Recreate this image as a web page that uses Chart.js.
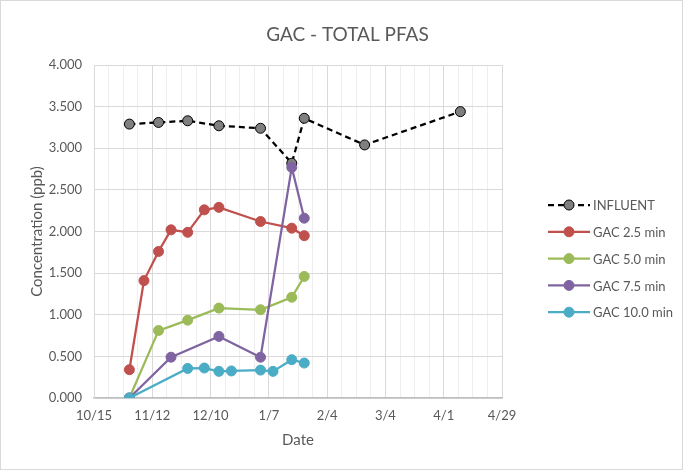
<!DOCTYPE html>
<html lang="en">
<head>
  <meta charset="UTF-8">
  <title>GAC - TOTAL PFAS</title>
  <script src="https://cdn.jsdelivr.net/npm/chart.js"></script>
  <style>
    body {
      margin: 0;
      background: #ffffff;
    }
    #chartBox {
      width: 683px;
      height: 470px;
      position: relative;
    }
  </style>
</head>
<body>

  <div id="chartBox">
    <canvas id="pfasChart"></canvas>
  </div>

  <script>
// Sampling dates (month/day, season runs Oct 2018 - Apr 2019)
const influentDates = ['11/1', '11/15', '11/29', '12/14', '1/3', '1/18', '1/24', '2/22', '4/9'];
const influentValues = [3.29, 3.31, 3.33, 3.27, 3.24, 2.82, 3.36, 3.04, 3.44];

const gac25Dates = ['11/1', '11/8', '11/15', '11/21', '11/29', '12/7', '12/14', '1/3', '1/18', '1/24'];
const gac25Values = [0.34, 1.41, 1.76, 2.02, 1.99, 2.26, 2.29, 2.12, 2.04, 1.95];

const gac50Dates = ['11/1', '11/15', '11/29', '12/14', '1/3', '1/18', '1/24'];
const gac50Values = [0.0, 0.81, 0.935, 1.08, 1.06, 1.21, 1.46];

const gac75Dates = ['11/1', '11/21', '12/14', '1/3', '1/18', '1/24'];
const gac75Values = [0.0, 0.49, 0.74, 0.49, 2.77, 2.16];

const gac100Dates = ['11/1', '11/29', '12/7', '12/14', '12/20', '1/3', '1/9', '1/18', '1/24'];
const gac100Values = [0.0, 0.355, 0.36, 0.32, 0.325, 0.335, 0.32, 0.46, 0.42];

// x axis labels, one every 28 days starting at 10/15
const xTickLabels = ['10/15', '11/12', '12/10', '1/7', '2/4', '3/4', '4/1', '4/29'];

const chartTitle = 'GAC - TOTAL PFAS';
const textColor = '#595959';
const fontFamily = 'Lato, "Open Sans", sans-serif';

// days after 10/15/2018
function dayOf(md) {
  const [m, d] = md.split('/').map(Number);
  const y = m >= 10 ? 2018 : 2019;
  return Math.round((Date.UTC(y, m - 1, d) - Date.UTC(2018, 9, 15)) / 86400000);
}

const toPoints = (dates, values) => dates.map((d, i) => ({ x: dayOf(d), y: values[i] }));

const makeSeries = (label, dates, values, color, order) => ({
  label: label,
  data: toPoints(dates, values),
  showLine: true,
  borderColor: color,
  backgroundColor: color,
  borderWidth: 2.25,
  pointRadius: 5,
  pointHoverRadius: 5,
  pointBorderWidth: 1,
  pointBorderColor: color,
  order: order
});

const influent = makeSeries('INFLUENT', influentDates, influentValues, '#000000', 4);
influent.borderDash = [6, 4];
influent.pointBackgroundColor = '#7f7f7f';
influent.pointBorderColor = '#000000';
influent.backgroundColor = '#7f7f7f';

const datasets = [
  influent,
  makeSeries('GAC 2.5 min', gac25Dates, gac25Values, '#c0504d', 3),
  makeSeries('GAC 5.0 min', gac50Dates, gac50Values, '#9bbb59', 2),
  makeSeries('GAC 7.5 min', gac75Dates, gac75Values, '#8064a2', 1),
  makeSeries('GAC 10.0 min', gac100Dates, gac100Values, '#4bacc6', 0)
];

// white background, thin frame and the title centred on the whole chart
const frame = {
  id: 'frame',
  beforeDraw(chart) {
    const ctx = chart.ctx;
    ctx.save();
    ctx.fillStyle = '#ffffff';
    ctx.fillRect(0, 0, chart.width, chart.height);
    ctx.strokeStyle = '#d9d9d9';
    ctx.lineWidth = 1;
    ctx.strokeRect(0.5, 0.5, chart.width - 1, chart.height - 1);
    ctx.font = '19px ' + fontFamily;
    ctx.fillStyle = textColor;
    ctx.textAlign = 'center';
    ctx.textBaseline = 'middle';
    ctx.fillText(chartTitle, chart.width / 2 + 6, 35);
    ctx.restore();
  }
};

// legend on the right: short line with marker in the middle
const sideLegend = {
  id: 'sideLegend',
  afterDraw(chart) {
    const ctx = chart.ctx;
    ctx.save();
    ctx.font = '13px ' + fontFamily;
    ctx.textBaseline = 'middle';
    chart.data.datasets.forEach((ds, i) => {
      const y = 205 + i * 26.8;
      ctx.strokeStyle = ds.borderColor;
      ctx.lineWidth = 2.25;
      ctx.setLineDash(ds.borderDash || []);
      ctx.beginPath();
      ctx.moveTo(548, y);
      ctx.lineTo(590, y);
      ctx.stroke();
      ctx.setLineDash([]);
      ctx.beginPath();
      ctx.arc(569, y, 5, 0, Math.PI * 2);
      ctx.fillStyle = ds.pointBackgroundColor || ds.backgroundColor;
      ctx.fill();
      ctx.lineWidth = 1;
      ctx.strokeStyle = ds.pointBorderColor;
      ctx.stroke();
      ctx.fillStyle = textColor;
      ctx.textAlign = 'left';
      ctx.fillText(ds.label, 593, y + 1);
    });
    ctx.restore();
  }
};

new Chart(document.getElementById('pfasChart'), {
  type: 'scatter',
  data: { datasets: datasets },
  options: {
    responsive: true,
    maintainAspectRatio: false,
    animation: false,
    layout: { padding: { left: 0, right: 181, top: 65, bottom: 0 } },
    plugins: {
      legend: { display: false },
      tooltip: { enabled: false },
      title: { display: false }
    },
    scales: {
      x: {
        type: 'linear',
        min: 0,
        max: 196,
        afterFit(scale) { scale.height = 72; },
        grid: {
          drawTicks: false,
          color: ctx => (ctx.tick && ctx.tick.value % 28 === 0) ? '#d9d9d9' : '#eeeeee'
        },
        border: { color: '#bfbfbf', width: 1.5 },
        ticks: {
          stepSize: 7,
          autoSkip: false,
          maxRotation: 0,
          padding: 10,
          color: textColor,
          font: { family: fontFamily, size: 13 },
          callback: v => (v % 28 === 0 ? xTickLabels[v / 28] : '')
        },
        title: {
          display: true,
          text: 'Date',
          color: textColor,
          font: { family: fontFamily, size: 15 },
          padding: { top: 0, bottom: 21 }
        }
      },
      y: {
        min: 0,
        max: 4,
        afterFit(scale) { scale.width = 94; },
        grid: { drawTicks: false, color: '#d9d9d9' },
        border: { color: '#d9d9d9' },
        ticks: {
          stepSize: 0.5,
          padding: 12,
          color: textColor,
          font: { family: fontFamily, size: 13 },
          callback: v => v.toFixed(3)
        },
        title: {
          display: true,
          text: 'Concentration (ppb)',
          color: textColor,
          font: { family: fontFamily, size: 15 },
          padding: { top: 28, bottom: 0 }
        }
      }
    }
  },
  plugins: [frame, sideLegend]
});
  </script>
</body>
</html>
